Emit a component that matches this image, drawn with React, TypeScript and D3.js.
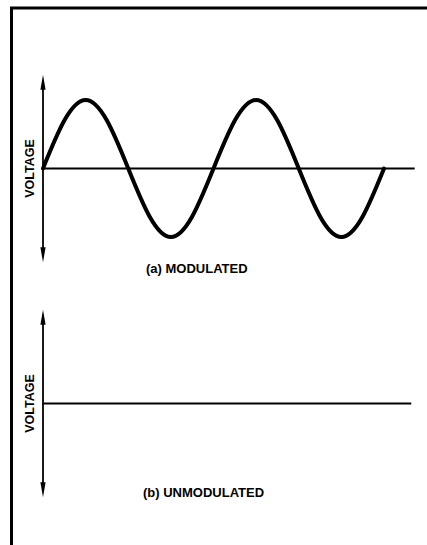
import { useEffect, useRef } from "react";
import * as d3 from "d3";

// time in cycles, voltage normalised to the peak (read at eighth-cycle steps)
const modulatedTime = [0, 0.125, 0.25, 0.375, 0.5, 0.625, 0.75, 0.875, 1, 1.125, 1.25, 1.375, 1.5, 1.625, 1.75, 1.875, 2];
const modulatedVoltage = [0, 0.7, 1, 0.7, 0, -0.7, -1, -0.7, 0, 0.7, 1, 0.7, 0, -0.7, -1, -0.7, 0];
const unmodulatedTime = [0, 2.16];
const unmodulatedVoltage = [0, 0];
const panelLabels = ["(a) MODULATED", "(b) UNMODULATED"];
const axisLabel = "VOLTAGE";

const W = 427;
const H = 545;
const FONT = "'Liberation Sans', Arial, Helvetica, sans-serif";

const drawArrow = (g, x, y1, y2) => {
  g.append("line")
    .attr("x1", x).attr("x2", x)
    .attr("y1", y1 + 8).attr("y2", y2 - 8)
    .attr("stroke", "#000").attr("stroke-width", 1.8);
  g.append("path")
    .attr("d", `M${x},${y1} L${x - 2.6},${y1 + 15} L${x + 2.6},${y1 + 15} Z`)
    .attr("fill", "#000");
  g.append("path")
    .attr("d", `M${x},${y2} L${x - 2.6},${y2 - 15} L${x + 2.6},${y2 - 15} Z`)
    .attr("fill", "#000");
};

const drawPanel = (svg, top, time, voltage, baseEnd, label, labelX, labelY) => {
  const g = svg.append("g");
  const x = d3.scaleLinear().domain([0, 2]).range([43, 384]);
  const y = d3.scaleLinear().domain([-1, 1]).range([top + 137, top]);

  drawArrow(g, x(0), y(1.37), y(-1.37));

  g.append("line")
    .attr("x1", x(0)).attr("x2", x(baseEnd))
    .attr("y1", y(0)).attr("y2", y(0))
    .attr("stroke", "#000").attr("stroke-width", 2);

  if (time.length > 2) {
    const line = d3.line<number>()
      .x((_, i) => x(time[i]))
      .y((v) => y(v))
      .curve(d3.curveNatural);
    g.append("path")
      .attr("d", line(voltage))
      .attr("fill", "none")
      .attr("stroke", "#000")
      .attr("stroke-width", 4)
      .attr("stroke-linecap", "round");
  }

  g.append("text")
    .attr("transform", `translate(33.5,${y(0)}) rotate(-90)`)
    .attr("text-anchor", "middle")
    .attr("font-family", FONT)
    .attr("font-weight", "bold")
    .attr("font-size", 12.5)
    .attr("fill", "#000")
    .text(axisLabel);

  g.append("text")
    .attr("x", labelX)
    .attr("y", labelY)
    .attr("font-family", FONT)
    .attr("font-weight", "bold")
    .attr("font-size", 13)
    .attr("fill", "#000")
    .text(label);
};

export default function App() {
  const ref = useRef(null);

  useEffect(() => {
    const svg = d3.select(ref.current);
    svg.selectAll("*").remove();

    svg.append("rect").attr("width", W).attr("height", H).attr("fill", "#fff");

    // frame: top and left rules
    svg.append("path")
      .attr("d", `M11.5,${H} L11.5,8 L${W},8`)
      .attr("fill", "none")
      .attr("stroke", "#000")
      .attr("stroke-width", 3);

    drawPanel(svg, 100, modulatedTime, modulatedVoltage, 2.18, panelLabels[0], 146, 273);
    drawPanel(svg, 335, unmodulatedTime, unmodulatedVoltage, 2.16, panelLabels[1], 143, 497);
  }, []);

  return (
    <svg
      ref={ref}
      width={W}
      height={H}
      style={{ position: "absolute", left: 0, top: 0, display: "block" }}
    />
  );
}
